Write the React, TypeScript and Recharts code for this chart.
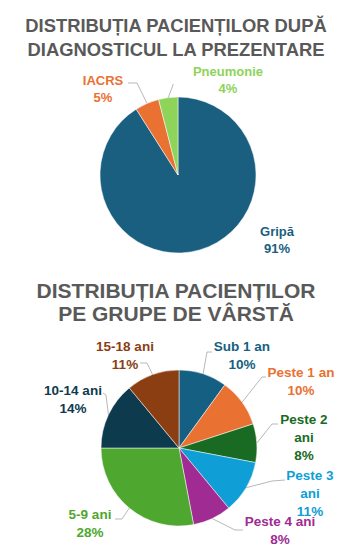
import React from 'react';
import { PieChart, Pie, Cell } from 'recharts';

const diagNames = ['Gripă', 'IACRS', 'Pneumonie'];
const diagValues = [91, 5, 4];
const diagColors = ['#1A5E80', '#E97132', '#8ED35A'];

const ageNames = ['Sub 1 an', 'Peste 1 an', 'Peste 2 ani', 'Peste 3 ani', 'Peste 4 ani', '5-9 ani', '10-14 ani', '15-18 ani'];
const ageValues = [10, 10, 8, 11, 8, 28, 14, 11];
const ageColors = ['#156082', '#E97132', '#196B24', '#0F9ED5', '#A02B93', '#4EA72E', '#0E3A4E', '#8B3E12'];

const title1 = ['DISTRIBUȚIA PACIENȚILOR DUPĂ', 'DIAGNOSTICUL LA PREZENTARE'];
const title2 = ['DISTRIBUȚIA PACIENȚILOR', 'PE GRUPE DE VÂRSTĂ'];

// label layout (offsets from pie centre): text position, leader elbow, leader end
const diagLayout = [
  { lines: ['Gripă'], tx: 99, ty: 56, line: null },
  { lines: ['IACRS'], tx: -75, ty: -95, line: [-41, -92, -50, -92] },
  { lines: ['Pneumonie'], tx: 50, ty: -104, line: [-5, -90, -5, -91] },
];
const ageLayout = [
  { lines: ['Sub 1 an'], tx: 63, ty: -102, line: [28, -96, 33, -96] },
  { lines: ['Peste 1 an'], tx: 122, ty: -76, line: [83, -71, 87, -71] },
  { lines: ['Peste 2', 'ani'], tx: 125, ty: -29, line: [93, -24, 99, -24] },
  { lines: ['Peste 3', 'ani'], tx: 131, ty: 27, line: [93, 33, 106, 32] },
  { lines: ['Peste 4 ani'], tx: 101, ty: 73, line: [56, 82, 64, 82] },
  { lines: ['5-9 ani'], tx: -89, ty: 66, line: [-57, 71, -64, 71] },
  { lines: ['10-14 ani'], tx: -106, ty: -58, line: [-73, -53, -76, -55] },
  { lines: ['15-18 ani'], tx: -54, ty: -102, line: [-32, -85, -39, -85] },
];

const FONT = '"Liberation Sans", Arial, sans-serif';

const makeLabel = (layout: any[], colors: string[], lineH: number, fs: number) => (p: any) => {
  const { cx, cy, midAngle, outerRadius, index, value } = p;
  const L = layout[index];
  const RAD = Math.PI / 180;
  const ex = cx + outerRadius * Math.cos(-midAngle * RAD);
  const ey = cy + outerRadius * Math.sin(-midAngle * RAD);
  const texts = [...L.lines, `${value}%`];
  return (
    <g key={`lab-${index}`}>
      {L.line && (
        <polyline
          points={`${ex},${ey} ${cx + L.line[0]},${cy + L.line[1]} ${cx + L.line[2]},${cy + L.line[3]}`}
          fill="none"
          stroke="#A6A6A6"
          strokeWidth={0.8}
        />
      )}
      {texts.map((t, i) => (
        <text
          key={i}
          x={cx + L.tx}
          y={cy + L.ty + i * lineH}
          textAnchor="middle"
          dominantBaseline="central"
          fill={colors[index]}
          fontSize={fs}
          fontWeight="bold"
          fontFamily={FONT}
        >
          {t}
        </text>
      ))}
    </g>
  );
};

const diagData = diagNames.map((name, i) => ({ name, value: diagValues[i] }));
const ageData = ageNames.map((name, i) => ({ name, value: ageValues[i] }));

const titleStyle = (top: number, fs: number, lh: number): React.CSSProperties => ({
  position: 'absolute',
  left: 0,
  top,
  width: 352,
  textAlign: 'center',
  fontFamily: FONT,
  fontWeight: 'bold',
  fontSize: fs,
  lineHeight: `${lh}px`,
  color: '#595959',
});

export default function App() {
  return (
    <div style={{ position: 'absolute', left: 0, top: 0, width: 356, height: 550, background: '#fff' }}>
      <PieChart width={356} height={550} style={{ position: 'absolute', left: 0, top: 0 }}>
        <Pie
          data={diagData}
          dataKey="value"
          nameKey="name"
          cx={173}
          cy={170}
          outerRadius={78}
          startAngle={90}
          endAngle={-270}
          stroke="#fff"
          strokeWidth={0.5}
          isAnimationActive={false}
          labelLine={false}
          label={makeLabel(diagLayout, diagColors, 17, 13)}
        >
          {diagData.map((d, i) => (
            <Cell key={d.name} fill={diagColors[i]} />
          ))}
        </Pie>
        <Pie
          data={ageData}
          dataKey="value"
          nameKey="name"
          cx={174}
          cy={443}
          outerRadius={78}
          startAngle={90}
          endAngle={-270}
          stroke="#fff"
          strokeWidth={0.5}
          isAnimationActive={false}
          labelLine={false}
          label={makeLabel(ageLayout, ageColors, 18, 13.5)}
        >
          {ageData.map((d, i) => (
            <Cell key={d.name} fill={ageColors[i]} />
          ))}
        </Pie>
      </PieChart>
      <div style={titleStyle(14, 18.4, 23.5)}>
        {title1.map((t) => (
          <div key={t}>{t}</div>
        ))}
      </div>
      <div style={titleStyle(280, 21, 22.5)}>
        {title2.map((t) => (
          <div key={t}>{t}</div>
        ))}
      </div>
    </div>
  );
}
